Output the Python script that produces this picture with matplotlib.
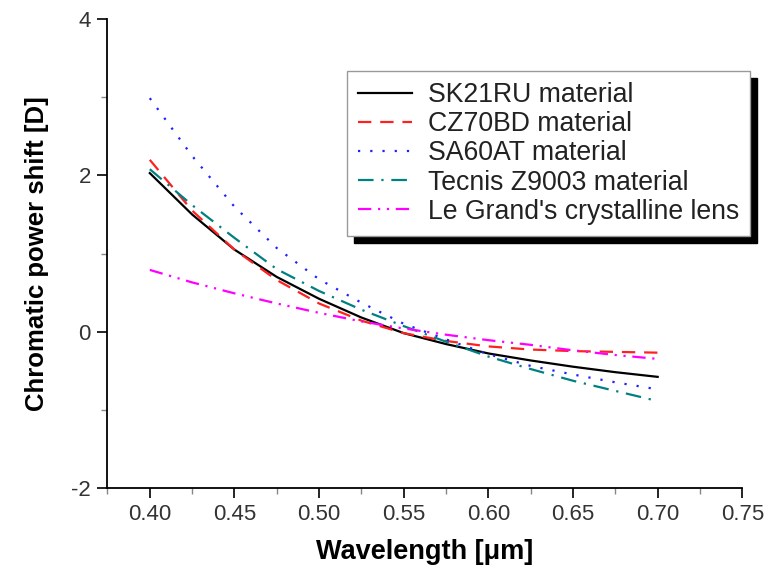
import matplotlib
matplotlib.use("Agg")
import matplotlib.pyplot as plt
from matplotlib.ticker import MultipleLocator, FormatStrFormatter

plt.rcParams['font.family'] = ['Liberation Sans', 'DejaVu Sans']
plt.rcParams['axes.unicode_minus'] = False

wavelength = [0.400, 0.425, 0.450, 0.475, 0.500, 0.525, 0.550,
              0.575, 0.600, 0.625, 0.650, 0.675, 0.700]

sk21ru = [2.03, 1.50, 1.05, 0.70, 0.42, 0.18, -0.02,
          -0.16, -0.28, -0.37, -0.45, -0.52, -0.58]
cz70bd = [2.20, 1.55, 1.05, 0.66, 0.36, 0.14, -0.02,
          -0.12, -0.19, -0.23, -0.25, -0.26, -0.27]
sa60at = [2.99, 2.25, 1.60, 1.07, 0.67, 0.37, 0.10,
          -0.10, -0.29, -0.44, -0.55, -0.65, -0.74]
tecnis = [2.08, 1.62, 1.20, 0.80, 0.52, 0.28, 0.07,
          -0.13, -0.32, -0.48, -0.63, -0.76, -0.89]
legrand = [0.79, 0.63, 0.49, 0.36, 0.24, 0.13, 0.04,
           -0.04, -0.11, -0.17, -0.24, -0.30, -0.35]

labels = ["SK21RU material", "CZ70BD material", "SA60AT material",
          "Tecnis Z9003 material", "Le Grand's crystalline lens"]

fig = plt.figure(figsize=(7.71, 5.75), dpi=100)
ax = fig.add_axes([0.1394, 0.1518, 0.8234, 0.8146])

ax.plot(wavelength, sk21ru, color='black', lw=1.6, linestyle='-', label=labels[0])
ax.plot(wavelength, cz70bd, color='#ff2020', lw=1.6, linestyle=(0, (6, 4)), label=labels[1])
ax.plot(wavelength, sa60at, color='#2020ff', lw=1.6, linestyle=(0, (1, 4.5)), label=labels[2])
ax.plot(wavelength, tecnis, color='#008080', lw=1.6, linestyle=(0, (7, 3.5, 1, 3.5)), label=labels[3])
ax.plot(wavelength, legrand, color='#ff00ff', lw=1.6,
        linestyle=(0, (6, 3, 1, 3, 1, 3)), label=labels[4])

ax.set_xlim(0.375, 0.75)
ax.set_ylim(-2, 4)
ax.xaxis.set_major_locator(MultipleLocator(0.05))
ax.xaxis.set_minor_locator(MultipleLocator(0.025))
ax.xaxis.set_major_formatter(FormatStrFormatter('%.2f'))
ax.yaxis.set_major_locator(MultipleLocator(2))
ax.yaxis.set_minor_locator(MultipleLocator(1))

for side in ('top', 'right'):
    ax.spines[side].set_visible(False)
for side in ('left', 'bottom'):
    ax.spines[side].set_linewidth(1.3)

ax.tick_params(which='major', direction='out', length=7, width=1.2,
               labelsize=16, labelcolor='#333333', pad=5)
ax.tick_params(which='minor', direction='out', length=4, width=1.0, color='#888888')

ax.set_xlabel('Wavelength [\u03bcm]', fontsize=19.5, fontweight='bold', labelpad=10)
ax.set_ylabel('Chromatic power shift [D]', fontsize=18.5, fontweight='bold', labelpad=16)

leg = ax.legend(loc='upper left', bbox_to_anchor=(347 / 771, 1 - 70.7 / 575),
                bbox_transform=fig.transFigure, borderaxespad=0,
                fontsize=19.2, frameon=True, fancybox=False,
                shadow={'color': 'black', 'alpha': 1.0, 'ox': 5, 'oy': -5},
                handlelength=2.0, handletextpad=0.6, labelspacing=0.12,
                borderpad=0.42)
leg.get_frame().set_edgecolor('#999999')
leg.get_frame().set_linewidth(1.0)
for line in leg.get_lines():
    line.set_linewidth(1.6)
for t in leg.get_texts():
    t.set_color('#222222')

fig.savefig('out.png', dpi=100)
